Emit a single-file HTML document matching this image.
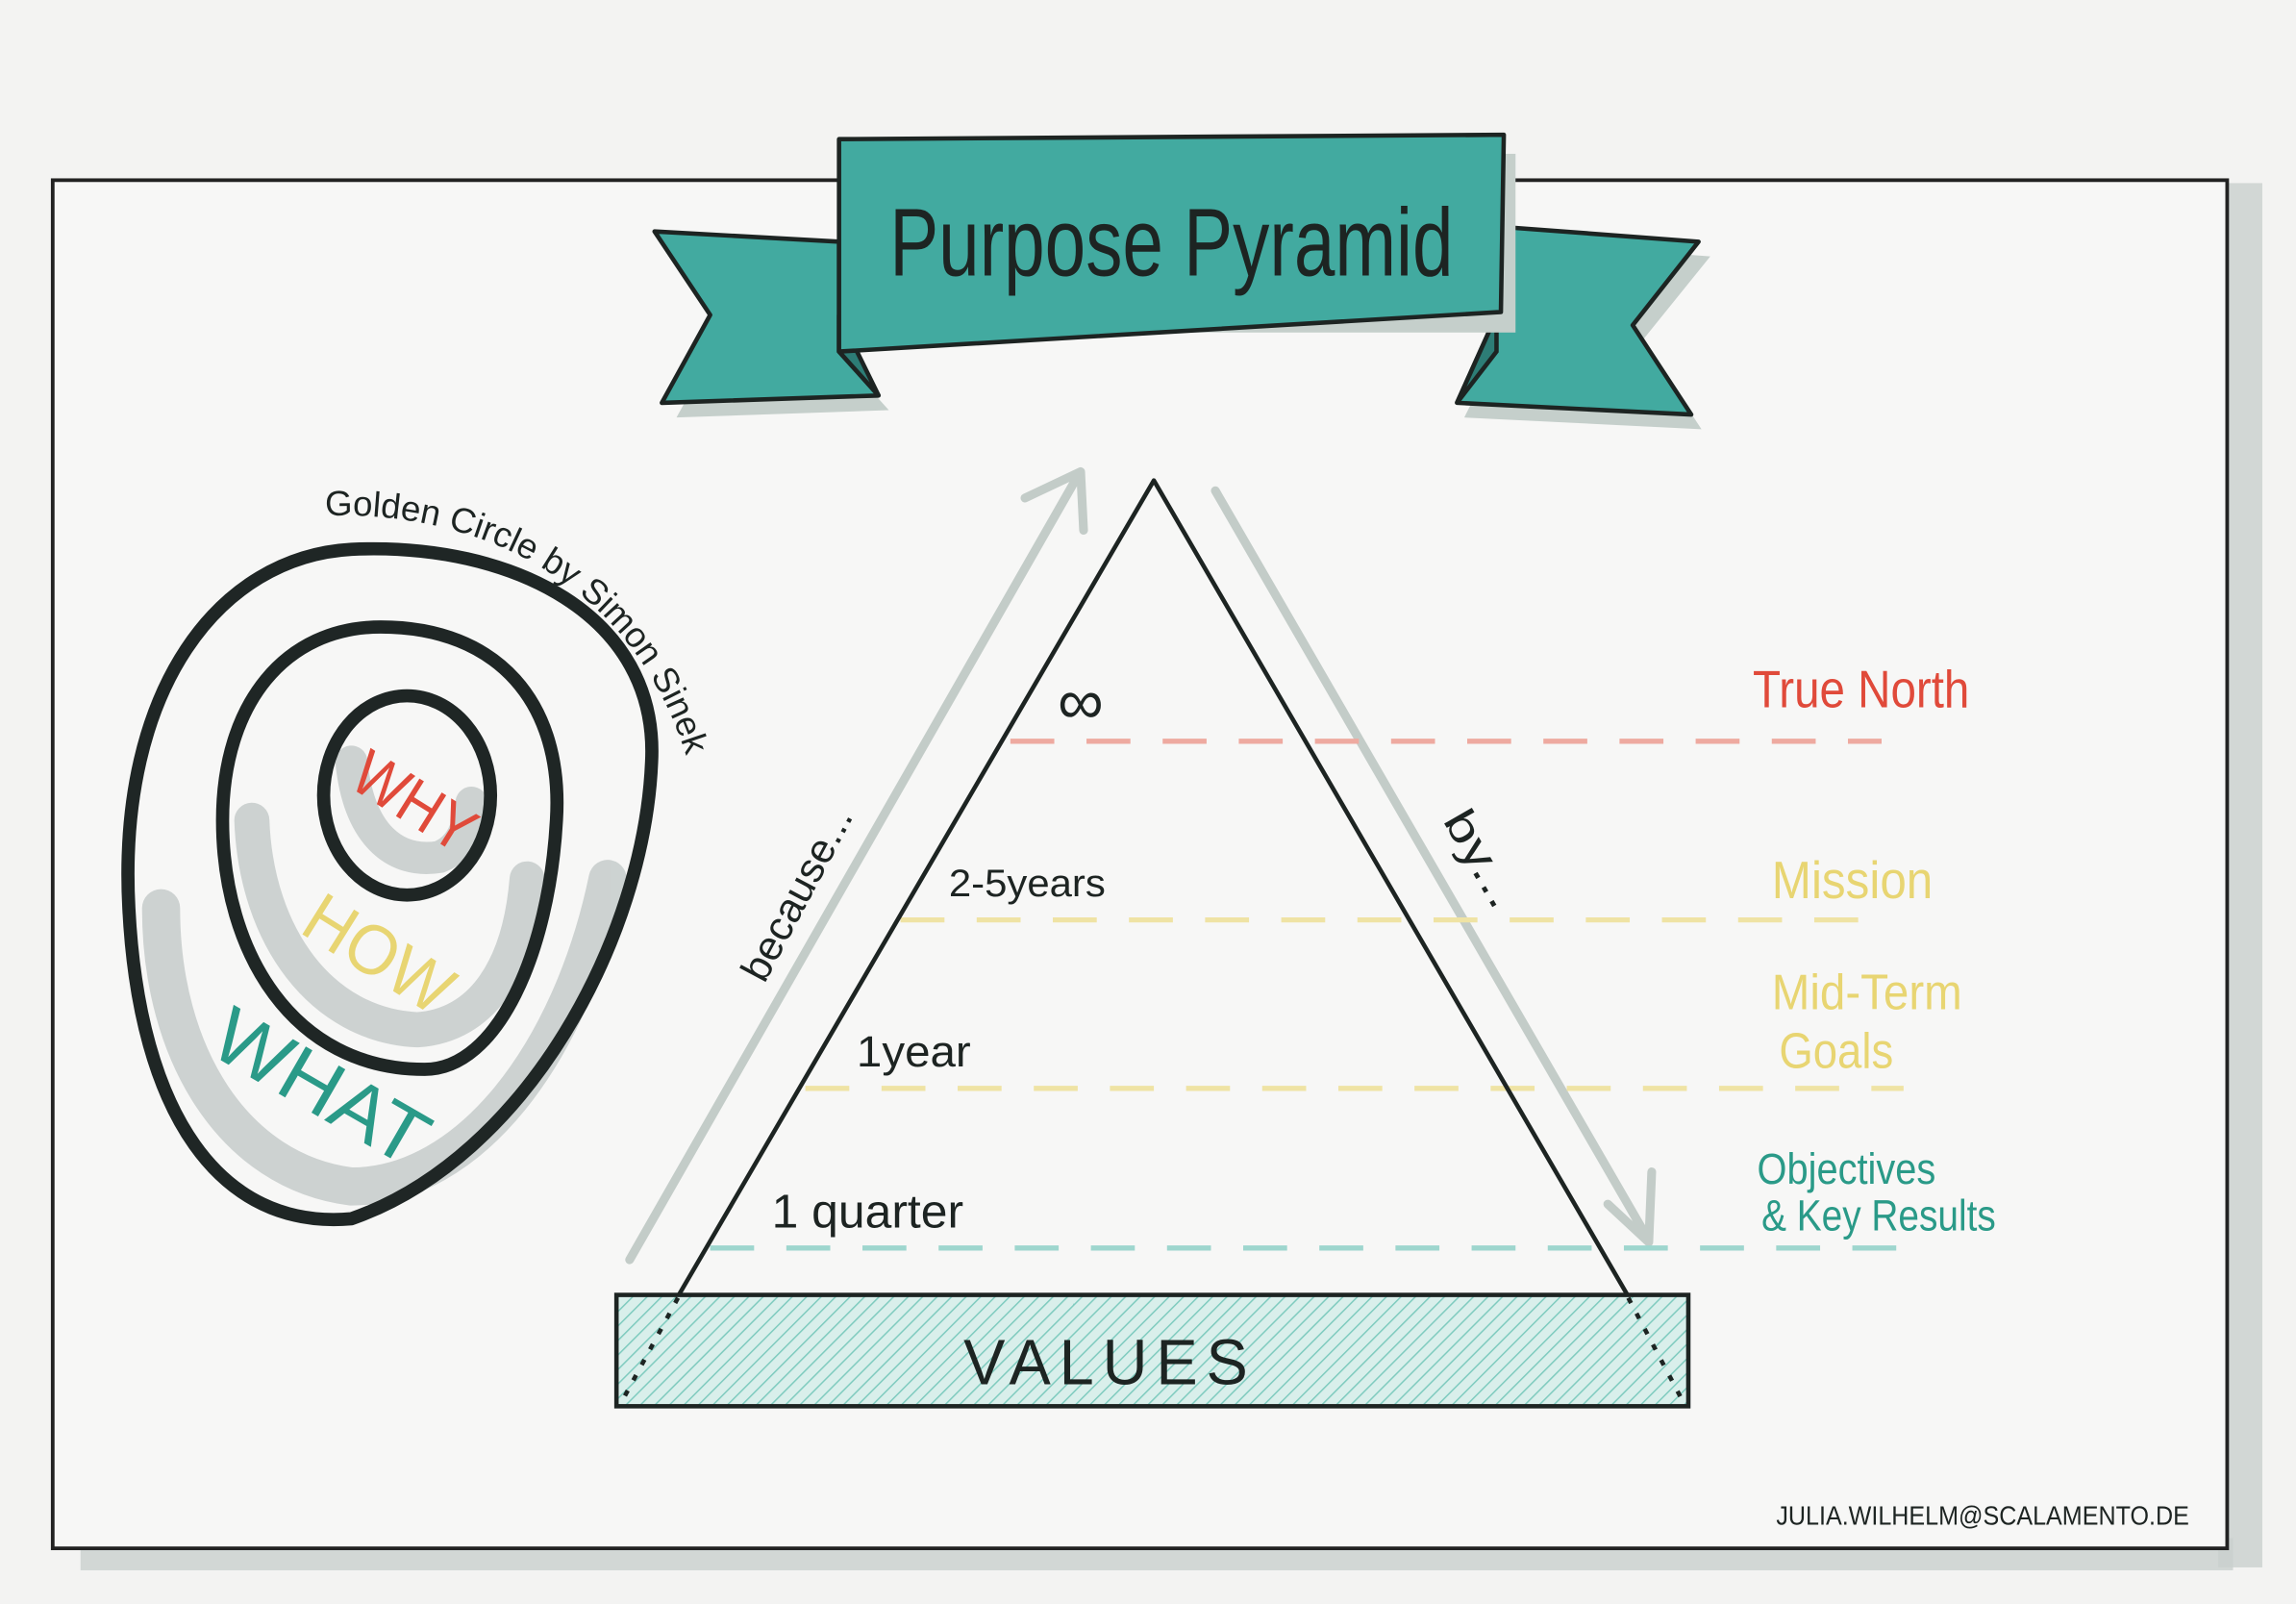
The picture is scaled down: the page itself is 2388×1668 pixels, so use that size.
<!DOCTYPE html>
<html><head><meta charset="utf-8"><style>
html,body{margin:0;padding:0;background:#f3f3f2;}
svg{display:block;}
text{font-family:"Liberation Sans",sans-serif;}
</style></head><body>
<svg width="2388" height="1668" viewBox="0 0 1568 1095" preserveAspectRatio="none" xmlns="http://www.w3.org/2000/svg">
<defs>
<pattern id="hatch" width="7" height="7" patternUnits="userSpaceOnUse" patternTransform="rotate(45)">
<rect width="7" height="7" fill="#d9efeb"/>
<line x1="0" y1="0" x2="0" y2="7" stroke="#7fcbbf" stroke-width="2"/>
</pattern>
<path id="arc" d="M 222,352 C 335,348 452,405 478,555"/>
</defs>
<rect width="1568" height="1095" fill="#f3f3f2"/>
<rect x="55" y="1050" width="1470" height="22" fill="#c9d0cd" opacity="0.8"/>
<rect x="1515" y="125" width="30" height="945" fill="#c9d0cd" opacity="0.8"/>
<rect x="36" y="123" width="1485" height="934" fill="#f7f7f6" stroke="#222" stroke-width="2.5"/>

<!-- banner -->
<polygon points="458,168 580,175 580,250 607,280 462,285 495,225" fill="#c5cfcb"/>
<polygon points="1035,165 1168,175 1122,232 1162,293 1000,285 1030,225" fill="#c5cfcb"/>
<polygon points="447,158 573,165 573,240 600,270 452,275 485,215" fill="#42aaa0" stroke="#1d2422" stroke-width="3" stroke-linejoin="round"/>
<polygon points="573,215 600,270 573,240" fill="#2d7d76" stroke="#1d2422" stroke-width="3"/>
<polygon points="1027,155 1160,165 1115,222 1155,283 995,275 1022,215" fill="#42aaa0" stroke="#1d2422" stroke-width="3" stroke-linejoin="round"/>
<polygon points="1022,215 995,275 1022,240" fill="#2d7d76" stroke="#1d2422" stroke-width="3"/>
<rect x="580" y="105" width="455" height="122" fill="#c5cfcb"/>
<polygon points="573,95 1027,92 1025,213 573,240" fill="#42aaa0" stroke="#1d2422" stroke-width="3" stroke-linejoin="round"/>
<text x="800" y="188" font-size="66" text-anchor="middle" fill="#1d2422" textLength="385" lengthAdjust="spacingAndGlyphs">Purpose Pyramid</text>

<!-- arrows -->
<g stroke="#c3ccc8" stroke-width="6" fill="none" stroke-linecap="round" stroke-linejoin="round">
<line x1="430" y1="860" x2="736" y2="325"/>
<polyline points="700,340 738,322 740,362"/>
<line x1="830" y1="335" x2="1125" y2="845"/>
<polyline points="1098,822 1126,848 1128,800"/>
</g>

<g stroke-width="3.5" stroke-dasharray="30,22" fill="none">
<line x1="690" y1="506" x2="1285" y2="506" stroke="#eeaaa0"/>
<line x1="615" y1="628" x2="1290" y2="628" stroke="#efe3a4"/>
<line x1="550" y1="743" x2="1300" y2="743" stroke="#efe3a4"/>
<line x1="485" y1="852" x2="1305" y2="852" stroke="#9ed6ce"/>
</g>

<polyline points="463,885 788,328 1112,885" fill="none" stroke="#1d2422" stroke-width="3" stroke-linejoin="round"/>
<rect x="421" y="884" width="732" height="76" fill="url(#hatch)" stroke="#1d2422" stroke-width="3"/>
<line x1="463" y1="886" x2="424" y2="958" stroke="#1d2422" stroke-width="3" stroke-dasharray="4,8"/>
<line x1="1112" y1="886" x2="1150" y2="958" stroke="#1d2422" stroke-width="3" stroke-dasharray="4,8"/>
<text x="758" y="945" font-size="44" text-anchor="middle" fill="#1d2422" letter-spacing="6" textLength="200" lengthAdjust="spacingAndGlyphs">VALUES</text>

<g fill="#1d2422">
<text x="738" y="494" font-size="44" text-anchor="middle">∞</text>
<text x="648" y="612" font-size="26" textLength="107" lengthAdjust="spacingAndGlyphs">2-5years</text>
<text x="585" y="728" font-size="30" textLength="78" lengthAdjust="spacingAndGlyphs">1year</text>
<text x="527" y="838" font-size="32" textLength="131" lengthAdjust="spacingAndGlyphs">1 quarter</text>
<text x="0" y="0" font-size="28" transform="translate(522,672) rotate(-62)" textLength="130" lengthAdjust="spacingAndGlyphs">because...</text>
<text x="0" y="0" font-size="30" transform="translate(985,560) rotate(60)" textLength="72" lengthAdjust="spacingAndGlyphs">by...</text>
</g>

<text x="1197" y="483" font-size="36" fill="#e04a3a" textLength="148" lengthAdjust="spacingAndGlyphs">True North</text>
<text x="1210" y="613" font-size="36" fill="#e8d572" textLength="110" lengthAdjust="spacingAndGlyphs">Mission</text>
<text x="1210" y="689" font-size="34" fill="#e8d572" textLength="130" lengthAdjust="spacingAndGlyphs">Mid-Term</text>
<text x="1215" y="729" font-size="34" fill="#e8d572" textLength="78" lengthAdjust="spacingAndGlyphs">Goals</text>
<text x="1200" y="808" font-size="30" fill="#2a9a88" textLength="122" lengthAdjust="spacingAndGlyphs">Objectives</text>
<text x="1203" y="840" font-size="30" fill="#2a9a88" textLength="160" lengthAdjust="spacingAndGlyphs">&amp; Key Results</text>

<text x="1213" y="1041" font-size="18" fill="#1d2422" textLength="282" lengthAdjust="spacingAndGlyphs">JULIA.WILHELM@SCALAMENTO.DE</text>

<!-- golden circle shading -->
<g fill="none" stroke="#c6cccb" stroke-linecap="round" opacity="0.85">
<path d="M 110,620 C 110,720 160,800 240,810 C 320,810 390,720 415,600" stroke-width="26"/>
<path d="M 172,560 C 175,640 220,700 285,703 C 330,700 355,660 360,600" stroke-width="24"/>
<path d="M 240,520 C 245,570 270,590 300,585 C 318,578 320,560 322,548" stroke-width="22"/>
</g>
<g fill="none" stroke="#1f2625" stroke-width="9" stroke-linejoin="round">
<path d="M 240,375 C 350,370 450,420 445,520 C 440,640 360,790 240,832 C 150,840 95,760 88,620 C 80,470 150,380 240,375 Z"/>
<path d="M 260,428 C 340,428 385,480 380,560 C 375,650 340,730 290,730 C 200,730 152,650 152,560 C 152,480 195,428 260,428 Z"/>
<ellipse cx="278" cy="543" rx="57" ry="68"/>
</g>
<text font-size="24" fill="#1d2422" textLength="320" lengthAdjust="spacingAndGlyphs"><textPath href="#arc">Golden Circle  by Simon Sinek</textPath></text>
<text x="0" y="0" font-size="44" fill="#e04a3a" text-anchor="middle" transform="translate(275,560) rotate(32)" textLength="90" lengthAdjust="spacingAndGlyphs">WHY</text>
<text x="0" y="0" font-size="48" fill="#e8d572" text-anchor="middle" transform="translate(250,665) rotate(32)" textLength="110" lengthAdjust="spacingAndGlyphs">HOW</text>
<text x="0" y="0" font-size="54" fill="#2a9a88" text-anchor="middle" transform="translate(210,758) rotate(30)" textLength="160" lengthAdjust="spacingAndGlyphs">WHAT</text>
</svg>
</body></html>
